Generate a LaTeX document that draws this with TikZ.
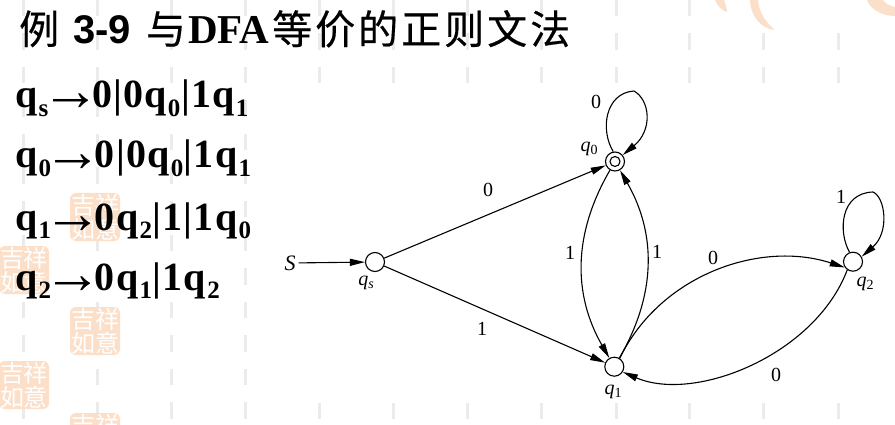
\documentclass[tikz,border=0pt]{standalone}
\usepackage{fontspec}
\setmainfont{Liberation Serif}
\setsansfont{Liberation Sans}
\newfontfamily\cjk[FakeBold=0.4]{Noto Sans CJK SC}
\newfontfamily\cjkwide[FakeBold=0.4,LetterSpace=7.5]{Noto Sans CJK SC}
\newfontfamily\stampfont{Noto Sans CJK SC}
\usetikzlibrary{arrows.meta}
\newcommand{\rulesym}[1]{\textbf{q}\raisebox{-9pt}{\fontsize{25}{25}\selectfont\textbf{#1}}}
\newcommand{\stname}[1]{\textit{q}\raisebox{-3pt}{\fontsize{14}{14}\selectfont #1}}
\newcommand{\rulearrow}{\kern-8pt\raisebox{-3pt}{\fontsize{59}{60}\selectfont\mdseries→}\kern-8pt}
\tikzset{
	statenode/.style={circle, draw, fill=white, line width=1.1pt, minimum size=19pt, inner sep=0pt},
	edgetext/.style={font=\fontsize{20}{22}\selectfont, inner sep=1pt},
	ruletext/.style={font=\fontsize{40}{44}\selectfont\bfseries\addfontfeature{LetterSpace=3}, anchor=base west, inner sep=0pt},
	stampbox/.style={fill=stamp, rounded corners=6pt, text=white, minimum width=50pt, minimum height=48pt, inner sep=0pt, align=center, font=\fontsize{24}{24}\selectfont\stampfont},
	trans/.style={line width=1.1pt, -{Triangle[length=15pt,width=7pt]}}
}
\definecolor{stamp}{HTML}{FBDFC8}
\definecolor{backline}{HTML}{EBEBEB}
\begin{document}
\begin{tikzpicture}[x=1pt, y=-1pt]
	\useasboundingbox (0,0) rectangle (895,425);
	
	\foreach \col in {23,97,171,245,319,393,467,541,616,689,763,838}
		\draw[backline, line width=3pt, dash pattern=on 16.5pt off 17pt] (\col,0) -- (\col,425);
	\fill[white] (250,84) rectangle (895,403);
	\fill[white] (740,0) rectangle (895,20);
	
	\foreach \sname/\sx/\sy in {a/95/217, b/24/270, c/95/331, d/24/385, e/95/437}
		\node[stampbox] (stamp\sname) at (\sx,\sy) {吉祥\\如意};
	
	\fill[stamp] (715,0) .. controls (717,5) and (722,11) .. (727,12) .. controls (727,7) and (725,3) .. (724,0) -- cycle;
	\fill[stamp] (750,0) .. controls (750,14) and (760,29) .. (775,30) .. controls (765,22) and (759,12) .. (758,0) -- cycle;
	\fill[stamp] (867,0) .. controls (870,9) and (882,16) .. (895,16) -- (895,7) .. controls (889,6) and (885,3) .. (883,0) -- cycle;
	
	\node[anchor=base west, inner sep=0pt, font=\fontsize{40}{42}\selectfont] (title) at (19,44) {{\cjk 例}\hspace{14pt}{\sffamily\bfseries 3-9}\hspace{15pt}{\cjk 与}\hspace{2pt}{\bfseries\fontsize{41}{42}\selectfont DFA}\hspace{3pt}{\cjkwide 等价的正则文法}};
	
	\node[ruletext] (rules) at (15,108) {\rulesym{s}\rulearrow 0|0\rulesym{0}|1\rulesym{1}};
	\node[ruletext] (rule0) at (15,168) {\rulesym{0}\rulearrow 0|0\rulesym{0}|1\rulesym{1}};
	\node[ruletext] (rule1) at (15,230) {\rulesym{1}\rulearrow 0\rulesym{2}|1|1\rulesym{0}};
	\node[ruletext] (rule2) at (15,290) {\rulesym{2}\rulearrow 0\rulesym{1}|1\rulesym{2}};
	
	\node[statenode] (qs) at (375,262) {};
	\node[statenode] (q0) at (615,161.5) {};
	\node[statenode] (q1) at (614.3,366.7) {};
	\node[statenode] (q2) at (853,261.7) {};
	\node[circle, draw, line width=1.1pt, minimum size=10pt, inner sep=0pt] (q0in) at (q0) {};
	\node[font=\fontsize{22}{24}\selectfont, inner sep=3pt] (S) at (290,263) {\textit{S}};
	
	\draw[trans] (S) -- (qs);
	\draw[trans] (qs) -- (q0);
	\draw[trans] (qs) -- (q1);
	\draw[trans] (q0) to[bend right=30] (q1);
	\draw[trans] (q1) to[bend right=30] (q0);
	\draw[trans] (q1.57) .. controls (660,275) and (760,240) .. (q2.215);
	\draw[trans] (q2.235) .. controls (815,355) and (695,403) .. (q1.-32);
	\draw[trans] (q0.100) .. controls (600,130) and (605,93) .. (634,91) .. controls (650,100) and (653,130) .. (q0.40);
	\draw[trans] (q2.110) .. controls (838,232) and (840,193) .. (873,192) .. controls (885,197) and (890,232) .. (q2.30);
	
	\node[edgetext] (lqs) at (366,283) {\stname{\textit{s}}};
	\node[edgetext] (lq0) at (589,149) {\stname{0}};
	\node[edgetext] (lq1) at (613,392) {\stname{1}};
	\node[edgetext] (lq2) at (865,284) {\stname{2}};
	
	\node[edgetext] (e0) at (488,190) {0};
	\node[edgetext] (e1) at (482,329) {1};
	\node[edgetext] (e2) at (570,253) {1};
	\node[edgetext] (e3) at (657,252) {1};
	\node[edgetext] (e4) at (713,258) {0};
	\node[edgetext] (e5) at (776,375) {0};
	\node[edgetext] (e6) at (596,102) {0};
	\node[edgetext] (e7) at (841,197) {1};
\end{tikzpicture}
\end{document}
